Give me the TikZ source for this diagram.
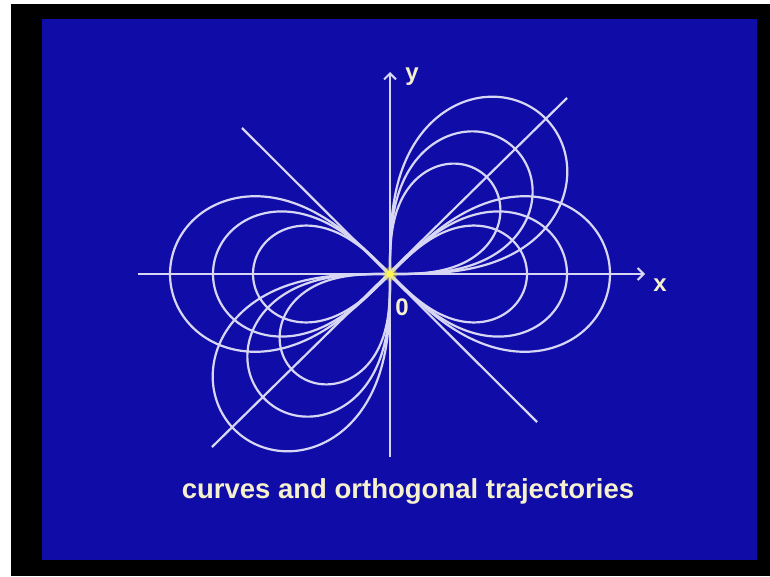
\documentclass[tikz,border=0pt]{standalone}
\usepackage{fontspec}
\setmainfont{Liberation Sans}
\usetikzlibrary{arrows.meta}
\definecolor{slideblue}{RGB}{16,12,168}
\definecolor{curvecol}{RGB}{215,215,245}
\definecolor{textcol}{RGB}{245,240,205}
\begin{document}
\begin{tikzpicture}[x=1pt,y=1pt,
  curve/.style={draw=curvecol, line width=2.2pt},
  axis/.style={draw=curvecol, line width=2.2pt, -{Straight Barb[length=6pt,width=12pt,line width=2pt]}},
  lbl/.style={text=textcol, font=\bfseries\fontsize{24}{24}\selectfont, inner sep=0pt}
]
% frame
\fill[white] (-390,-302) rectangle (380,274);
\fill[black] (-379,-302) rectangle (380,270);
\fill[slideblue] (-348,-286) rectangle (367,255);
\useasboundingbox (-390,-302) rectangle (380,274);
% named points
\coordinate (O) at (0,0);
\coordinate (xl) at (-252,0);
\coordinate (xr) at (255,0);
\coordinate (yb) at (0,-183);
\coordinate (yt) at (0,202);
\coordinate (ne) at (177,176);
\coordinate (sw) at (-178,-173);
\coordinate (nw) at (-148,146);
\coordinate (se) at (147,-148);
% lemniscates r^2 = a^2 cos 2theta and r^2 = b^2 sin 2theta
\foreach \a in {220,177,137}{
  \draw[curve, domain=0:360, samples=240, smooth, variable=\t]
    plot ({\a*cos(\t)/(1+sin(\t)^2)}, {\a*sin(\t)*cos(\t)/(1+sin(\t)^2)});
  \draw[curve, rotate=45, domain=0:360, samples=240, smooth, variable=\t]
    plot ({\a*cos(\t)/(1+sin(\t)^2)}, {\a*sin(\t)*cos(\t)/(1+sin(\t)^2)});
}
% lines
\draw[curve] (sw) -- (ne);
\draw[curve] (nw) -- (se);
\draw[axis] (xl) -- (xr);
\draw[axis] (yb) -- (yt);
\fill[yellow, opacity=0.35] (O) circle (7);
\fill[yellow!70!white] (O) circle (3.5);
% labels
\node[lbl] (xlab) at (270,-11) {x};
\node[lbl] (ylab) at (22,197) {y};
\node[lbl] (zlab) at (12,-33) {0};
\node[text=textcol, font=\bfseries\fontsize{27.5}{28}\selectfont, inner sep=0pt] (title) at (18,-217) {curves and orthogonal trajectories};
\end{tikzpicture}
\end{document}
